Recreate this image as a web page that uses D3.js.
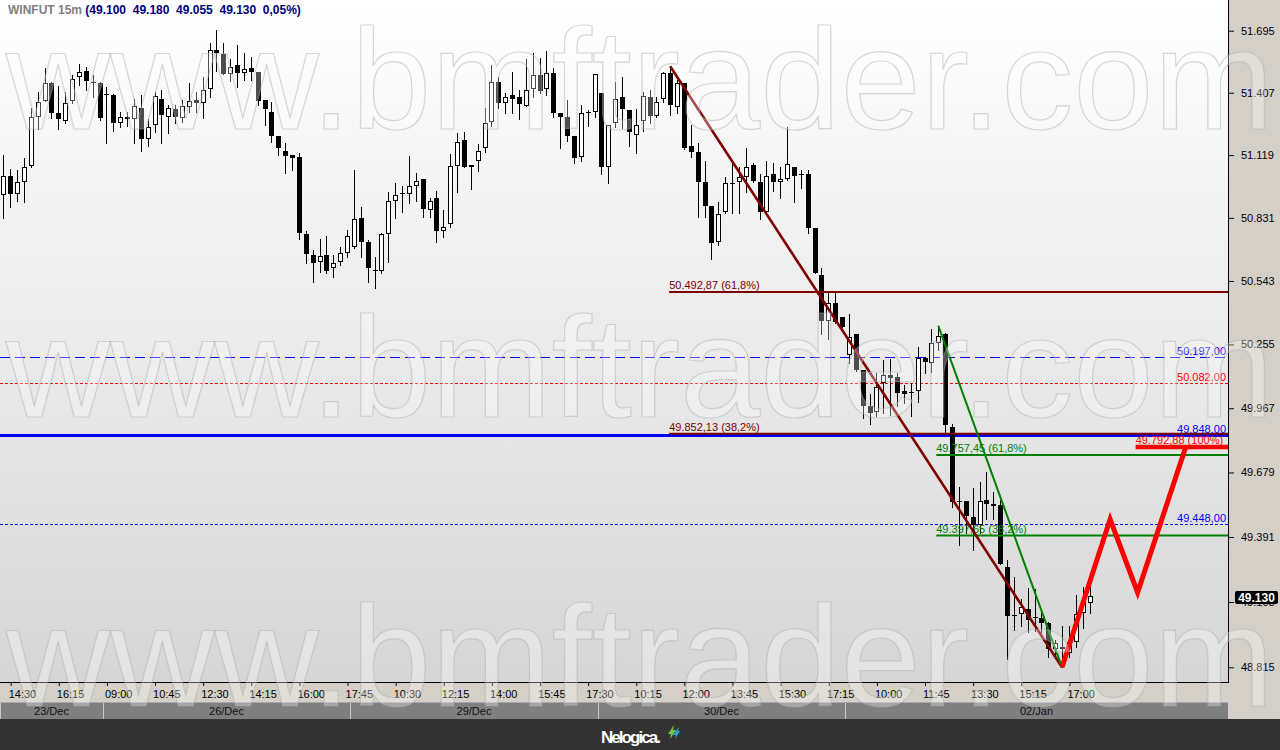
<!DOCTYPE html>
<html><head><meta charset="utf-8">
<script src="https://cdn.jsdelivr.net/npm/d3@7"></script>
<style>
body{margin:0;background:#333;}
svg{display:block;}
text{font-family:"Liberation Sans",Arial,sans-serif;}
</style>
</head><body>
<svg id="chart" width="1280" height="750"></svg>
<script>
// ---------------- DATA ----------------
const opens = [50935,51025,50940,50995,51070,51295,51370,51450,51315,51275,51370,51480,51510,51455,51450,51395,51395,51265,51295,51285,
51335,51195,51260,51380,51295,51330,51290,51340,51375,51360,51425,51605,51585,51495,51535,51500,51520,51505,51375,51320,
51205,51140,51120,51110,50755,50660,50630,50660,50600,50630,50670,50700,50830,50720,50595,50590,50755,50910,50945,50940,
50975,51010,50865,50920,50770,50805,51070,51190,51065,51090,51150,51270,51455,51360,51395,51385,51345,51425,51490,51425,
51500,51315,51295,51205,51110,51315,51320,51405,51065,51265,51385,51325,51210,51275,51385,51300,51380,51500,51340,51450,
51160,51135,50995,50885,50720,50860,50990,50995,51020,51075,50995,50860,51030,50995,51010,51065,51030,51030,50785,50570,
50360,50445,50380,50205,50300,50140,49975,49950,50080,50115,50110,50045,50040,50045,50195,50170,50260,50300,49885,49550,
49550,49480,49445,49555,49540,49535,49260,49045,49050,49070,49035,49030,49010,48895,48905,48880,48925,49055,49100];
const highs = [51120,51055,51050,51105,51335,51410,51520,51455,51440,51410,51490,51540,51525,51490,51455,51435,51400,51320,51320,51380,
51395,51285,51410,51420,51350,51350,51375,51450,51410,51480,51640,51700,51640,51565,51630,51590,51575,51505,51375,51365,
51205,51175,51120,51130,50770,50685,50735,50750,50660,50700,50775,51050,50880,50730,50650,50760,50950,50990,50975,51115,
51035,51010,50920,50955,50865,51125,51220,51225,51075,51170,51335,51535,51480,51405,51505,51420,51565,51590,51570,51600,
51520,51315,51375,51205,51350,51325,51495,51405,51260,51455,51480,51325,51330,51410,51420,51385,51505,51530,51465,51450,
51260,51175,51090,50885,50905,51020,51085,51065,51150,51085,51030,51090,51085,51065,51250,51065,51050,51050,50785,50600,
50490,50490,50380,50395,50300,50140,50030,50125,50185,50190,50125,50070,50080,50245,50200,50325,50340,50305,49895,49615,
49550,49610,49635,49680,49590,49555,49290,49215,49115,49165,49160,49060,49015,48935,48995,48995,49135,49170,49180];
const lows = [50830,50880,50910,50905,51065,51240,51370,51290,51240,51265,51360,51445,51420,51385,51280,51175,51230,51250,51255,51175,
51140,51160,51225,51175,51220,51265,51270,51320,51320,51290,51385,51510,51495,51460,51435,51465,51465,51350,51260,51180,
51120,51035,51050,50735,50625,50540,50585,50580,50560,50615,50650,50695,50650,50540,50510,50580,50630,50830,50860,50900,
50910,50835,50835,50720,50745,50790,50950,51065,50965,51045,51135,51255,51335,51315,51315,51285,51345,51385,51405,51395,
51295,51150,51185,51085,51090,51255,51295,51030,50990,51250,51245,51160,51130,51230,51265,51295,51365,51305,51315,51145,
51110,50835,50835,50645,50705,50855,50855,50855,50950,50995,50825,50860,50955,50920,51005,50905,50970,50760,50580,50300,
50280,50350,50335,50170,50135,49925,49895,49930,49945,49935,49975,49990,49930,49995,50125,50130,50230,49850,49525,49355,
49410,49335,49410,49470,49470,49270,48850,48980,48995,48970,48975,48970,48860,48860,48815,48860,48905,48990,49055];
const closes = [51025,50940,50995,51065,51295,51365,51450,51315,51285,51360,51470,51505,51460,51450,51290,51400,51265,51295,51285,51345,
51195,51250,51390,51305,51335,51295,51345,51370,51360,51420,51605,51590,51495,51525,51500,51515,51505,51370,51330,51205,
51150,51115,51105,50760,50665,50625,50655,50590,50625,50670,50750,50825,50720,50600,50590,50755,50910,50935,50945,50975,
51000,50870,50910,50770,50790,51070,51180,51065,51075,51140,51265,51455,51360,51385,51380,51355,51420,51490,51415,51500,
51315,51295,51205,51105,51315,51320,51495,51065,51260,51380,51330,51225,51260,51390,51300,51365,51500,51350,51450,51150,
51135,50995,50885,50715,50850,50990,50990,51020,51065,51000,50860,51025,50995,51010,51080,51025,51030,50785,50580,50360,
50445,50355,50335,50290,50140,49975,49945,50065,50115,50105,50035,50030,50035,50195,50175,50260,50295,49890,49545,49550,
49485,49445,49550,49540,49530,49270,49040,49045,49080,49025,49035,49010,48895,48920,48895,48925,49050,49105,49130];

const dayLabels = ["23/Dec","26/Dec","29/Dec","30/Dec","02/Jan"];
const dayFirstTimes = ["14:15","09:00","09:00","09:00","09:00"];
const dayBarCounts = [15,36,36,36,36];
const timeTickLabels = ["14:30","16:15","09:00","10:45","12:30","14:15","16:00","17:45","10:30","12:15","14:00","15:45","17:30",
  "10:15","12:00","13:45","15:30","17:15","10:00","11:45","13:30","15:15","17:00"];
const priceTicks = [51695,51407,51119,50831,50543,50255,49967,49679,49391,49103,48815];

const levelPrices = [50197, 50082, 49848, 49448];
const maroonFibPrices = [50492.87, 49852.13];
const maroonFibPct = ["61,8%","38,2%"];
const greenFibPrices = [49757.45, 49397.65];
const greenFibPct = ["61,8%","38,2%"];
const projectionPrice = 49792.88;
const projectionPct = "100%";
const maroonTrendBars = [97,154];
const maroonTrendPrices = [51530,48815];
const greenTrendBars = [136,154];
const greenTrendPrices = [50340,48815];
const zigzagBars = [154,161,165,172];
const zigzagPrices = [48815,49470,49145,49792.88];
const symbolName = "WINFUT 15m";
const watermarkText = "www.bmftrader.com";

// ---------------- SETUP ----------------
const W = 1280, H = 750, PR = 1228, PB = 682;
const svg = d3.select("#chart");
const loc = d3.formatLocale({decimal:",", thousands:".", grouping:[3], currency:["R$",""]});
const fInt = loc.format(",.0f"), f2 = loc.format(",.2f");

const x = d3.scaleLinear().domain([-0.48, 178]).range([0, 1227]);
const y = d3.scaleLog().domain([48815, 51695]).range([667.3, 30.7]);

const defs = svg.append("defs");
const grad = defs.append("linearGradient").attr("id","bg").attr("x1",0).attr("y1",0).attr("x2",0).attr("y2",1);
grad.append("stop").attr("offset","0").attr("stop-color","#ffffff");
grad.append("stop").attr("offset","1").attr("stop-color","#d6d6d6");
defs.append("clipPath").attr("id","plotclip").append("rect").attr("x",0).attr("y",0).attr("width",PR).attr("height",PB);

// backgrounds
svg.append("rect").attr("x",0).attr("y",0).attr("width",W).attr("height",H).attr("fill","#d4d0c8");
svg.append("rect").attr("x",0).attr("y",0).attr("width",PR).attr("height",PB).attr("fill","url(#bg)");

// header
const hdr = svg.append("text").attr("x",8).attr("y",14).attr("font-size",12).attr("font-weight","bold").style("white-space","pre");
const n = closes.length;
const pct = (closes[n-1]-closes[n-2])/closes[n-2]*100;
hdr.append("tspan").attr("fill","#808080").text(symbolName + " ");
hdr.append("tspan").attr("fill","#000080").text("(" + [opens[n-1],highs[n-1],lows[n-1],closes[n-1]].map(fInt).join("  ") + "  " + f2(pct) + "%)");

const plot = svg.append("g").attr("clip-path","url(#plotclip)");

// horizontal level lines (full width)
const levelStyles = [
  {c:"#0000ff", w:1, dash:"10,5"},
  {c:"#ff0000", w:1, dash:"3,2"},
  {c:"#0000ff", w:3, dash:null},
  {c:"#0000ff", w:1, dash:"3,2"}
];
levelPrices.forEach((p,k)=>{
  const yy = Math.round(y(p)) + (levelStyles[k].w%2 ? 0.5 : 0);
  plot.append("line").attr("x1",0).attr("x2",PR).attr("y1",yy).attr("y2",yy)
    .attr("stroke",levelStyles[k].c).attr("stroke-width",levelStyles[k].w)
    .attr("stroke-dasharray",levelStyles[k].dash);
  plot.append("text").attr("x",1226).attr("y",Math.round(y(p))-2).attr("text-anchor","end")
    .attr("font-size",11).attr("fill",levelStyles[k].c).text(f2(p));
});

// candles
const cg = plot.append("g");
for (let i=0;i<n;i++){
  const px = Math.round(x(i));
  const up = closes[i] >= opens[i];
  cg.append("line").attr("x1",px+0.5).attr("x2",px+0.5)
    .attr("y1",Math.round(y(highs[i]))).attr("y2",Math.round(y(lows[i]))+1)
    .attr("stroke","#000").attr("stroke-width",1);
  const yt = Math.round(y(Math.max(opens[i],closes[i])));
  const yb = Math.round(y(Math.min(opens[i],closes[i])));
  const h = Math.max(yb-yt,1);
  if (up && yb-yt >= 2){
    cg.append("rect").attr("x",px-2+0.5).attr("y",yt+0.5).attr("width",4).attr("height",h-1)
      .attr("fill","#fff").attr("stroke","#000").attr("stroke-width",1);
  } else {
    cg.append("rect").attr("x",px-2).attr("y",yt).attr("width",5).attr("height",Math.max(h,1))
      .attr("fill","#000");
  }
}

// maroon fib
maroonFibPrices.forEach((p,k)=>{
  const yy = y(p);
  plot.append("line").attr("x1",x(maroonTrendBars[0])-1).attr("x2",PR).attr("y1",yy).attr("y2",yy)
    .attr("stroke","#800000").attr("stroke-width",2);
  plot.append("text").attr("x",x(maroonTrendBars[0])-1).attr("y",yy-3).attr("font-size",11).attr("fill","#800000")
    .text(f2(p) + " (" + maroonFibPct[k] + ")");
});
// green fib
greenFibPrices.forEach((p,k)=>{
  const yy = y(p);
  plot.append("line").attr("x1",x(greenTrendBars[0])-2).attr("x2",PR).attr("y1",yy).attr("y2",yy)
    .attr("stroke","#008000").attr("stroke-width",2);
  plot.append("text").attr("x",x(greenTrendBars[0])-2).attr("y",yy-3).attr("font-size",11).attr("fill","#008000")
    .text(f2(p) + " (" + greenFibPct[k] + ")");
});

// trend lines
const lineGen = d3.line().x(d=>x(d[0])).y(d=>y(d[1]));
plot.append("path").attr("d",lineGen(d3.zip(maroonTrendBars,maroonTrendPrices)))
  .attr("stroke","#800000").attr("stroke-width",2.6).attr("fill","none");
plot.append("path").attr("d",lineGen(d3.zip(greenTrendBars,greenTrendPrices)))
  .attr("stroke","#008000").attr("stroke-width",2).attr("fill","none");

// projection
const py = y(projectionPrice);
plot.append("line").attr("x1",x(zigzagBars[2])-2).attr("x2",PR).attr("y1",py).attr("y2",py)
  .attr("stroke","#ff0000").attr("stroke-width",4.5);
plot.append("text").attr("x",x(zigzagBars[2])-2).attr("y",py-3).attr("font-size",11).attr("fill","#ff0000")
  .text(f2(projectionPrice) + " (" + projectionPct + ")");
plot.append("path").attr("d",lineGen(d3.zip(zigzagBars,zigzagPrices)))
  .attr("stroke","#ff0000").attr("stroke-width",5).attr("fill","none").attr("stroke-linejoin","miter");

// borders
svg.append("line").attr("x1",PR+0.5).attr("x2",PR+0.5).attr("y1",0).attr("y2",PB+1).attr("stroke","#000");
svg.append("line").attr("x1",0).attr("x2",PR+1).attr("y1",PB+0.5).attr("y2",PB+0.5).attr("stroke","#000");

// y axis
const yAxis = svg.append("g").attr("transform",`translate(${PR+1},0)`)
  .call(d3.axisRight(y).tickValues(priceTicks).tickFormat(fInt).tickSize(5).tickPadding(7));
yAxis.select(".domain").remove();
yAxis.selectAll("text").attr("font-size",11).attr("fill","#000").attr("font-family",'"Liberation Sans",Arial,sans-serif');
yAxis.selectAll("line").attr("stroke","#000");

// time axis
const barTimes = [], dayStarts = [];
dayLabels.forEach((d,k)=>{
  dayStarts.push(barTimes.length);
  const [hh,mm] = dayFirstTimes[k].split(":").map(Number);
  for (let j=0;j<dayBarCounts[k];j++){
    const t = hh*60+mm+15*j;
    barTimes.push(String(Math.floor(t/60)).padStart(2,"0")+":"+String(t%60).padStart(2,"0"));
  }
});
let pos = 0;
const tickIdx = timeTickLabels.map(l=>{ while(pos<barTimes.length && barTimes[pos]!==l) pos++; return pos++; });
const xAxis = svg.append("g").attr("transform",`translate(0,${PB})`)
  .call(d3.axisBottom(x).tickValues(tickIdx).tickFormat(i=>barTimes[i]).tickSize(4).tickPadding(4));
xAxis.select(".domain").remove();
xAxis.selectAll("line").attr("stroke","#000").attr("transform","translate(0.5,0)");
xAxis.selectAll("text").attr("font-size",11).attr("fill","#000").attr("text-anchor","start").attr("dx",-2)
  .attr("font-family",'"Liberation Sans",Arial,sans-serif');

// date band
const band = svg.append("g");
dayLabels.forEach((d,k)=>{
  const x0 = Math.round(x(dayStarts[k]-0.5));
  const x1 = k < dayLabels.length-1 ? Math.round(x(dayStarts[k+1]-0.5)) : PR;
  band.append("rect").attr("x",x0).attr("y",702).attr("width",x1-x0).attr("height",17).attr("fill","#7f7f7f");
  band.append("line").attr("x1",x0+0.5).attr("x2",x0+0.5).attr("y1",702).attr("y2",719).attr("stroke","#c8c8c8");
  band.append("text").attr("x",(x0+x1)/2).attr("y",715).attr("text-anchor","middle").attr("font-size",11)
    .attr("fill","#111").text(d);
});
band.append("line").attr("x1",0).attr("x2",PR).attr("y1",702.5).attr("y2",702.5).attr("stroke","#a8a8a8");

// footer
svg.append("rect").attr("x",0).attr("y",719).attr("width",W).attr("height",31).attr("fill","#333333");
svg.append("text").attr("x",601).attr("y",743).attr("font-size",17).attr("font-weight","bold").attr("fill","#fff")
  .attr("font-family","Lato, 'Open Sans', sans-serif").attr("textLength",60).text("Nelogica.");
svg.append("path").attr("d","M668,734 L674,725 L673,730 L676,730 L670,739 L671,734 Z").attr("fill","#7cc242");
svg.append("path").attr("d","M673,735 L679,727 L678,731 L680,731 L675,739 L676,735 Z").attr("fill","#29a8e0");

// watermark
const wm = svg.append("g").attr("pointer-events","none");
[129, 417, 706].forEach(b=>{
  wm.append("text").attr("x",6).attr("y",b).attr("font-size",142).attr("textLength",1268)
    .attr("lengthAdjust","spacingAndGlyphs")
    .attr("fill","rgba(255,255,255,0.3)").attr("stroke","rgba(170,170,170,0.45)").attr("stroke-width",1.2)
    .attr("font-family",'"Liberation Sans",Arial,sans-serif').text(watermarkText);
});
// cover footer/band from watermark overflow
svg.append("rect").attr("x",0).attr("y",719).attr("width",W).attr("height",31).attr("fill","#333333");
svg.append("text").attr("x",601).attr("y",743).attr("font-size",17).attr("font-weight","bold").attr("fill","#fff")
  .attr("font-family","Lato, 'Open Sans', sans-serif").attr("textLength",60).text("Nelogica.");
svg.append("path").attr("d","M668,734 L674,725 L673,730 L676,730 L670,739 L671,734 Z").attr("fill","#7cc242");
svg.append("path").attr("d","M673,735 L679,727 L678,731 L680,731 L675,739 L676,735 Z").attr("fill","#29a8e0");

// last price tag
const lp = y(closes[n-1]);
svg.append("rect").attr("x",1235).attr("y",Math.round(lp)-5).attr("width",43).attr("height",13).attr("rx",2).attr("fill","#000");
svg.append("text").attr("x",1256.5).attr("y",Math.round(lp)+6).attr("text-anchor","middle").attr("font-size",12)
  .attr("font-weight","bold").attr("fill","#fff").text(fInt(closes[n-1]));
</script>
</body></html>
